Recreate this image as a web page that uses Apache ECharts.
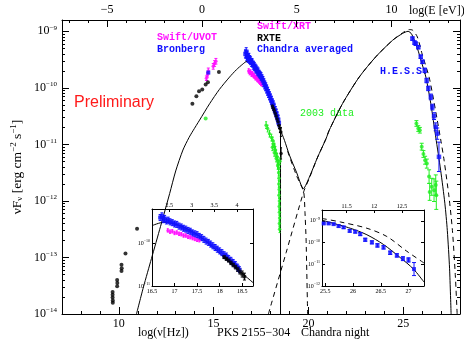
<!DOCTYPE html>
<html><head><meta charset="utf-8">
<script src="https://cdn.jsdelivr.net/npm/echarts@6/dist/echarts.min.js"></script>
<style>html,body{margin:0;padding:0;background:#fff}#c{width:464px;height:345px}</style>
</head><body><div id="c"></div>
<script>
// ---------- tick labels ----------
const xMainTicks = [10, 15, 20, 25];           // log(nu[Hz])
const eMainTicks = [-5, 0, 5, 10];             // log(E[eV])
const yMainTicks = [-14, -13, -12, -11, -10, -9];
const xInsetLTicks = [16.5, 17, 17.5, 18, 18.5];
const eInsetLTicks = [2.5, 3, 3.5, 4];
const yInsetLTicks = [-11, -10];
const xInsetRTicks = [25.5, 26, 26.5, 27];
const eInsetRTicks = [11.5, 12, 12.5];
const yInsetRTicks = [-12, -11, -10, -9];
const LOG_H = 14.383; // log(nu) - log(E[eV])

// ---------- data (log10 nu [Hz], log10 nuFnu) ----------
const radioBlack = [[9.67,-13.61],[9.67,-13.66],[9.67,-13.71],[9.68,-13.76],[9.68,-13.80],
  [9.91,-13.40],[9.92,-13.45],[9.91,-13.51],[10.14,-13.13],[10.15,-13.19],[10.14,-13.24],
  [10.35,-12.93],[10.96,-12.49]];
const opticalBlack = [[13.88,-10.28],[14.09,-10.15],[14.23,-10.06],[14.40,-10.03],[14.58,-9.94],[14.70,-9.90],[15.28,-9.72]];
const uvot = [[14.62,-9.83],[14.68,-9.77],[14.72,-9.70],[14.98,-9.62],[15.05,-9.57],[15.12,-9.53]];
const uvotErr = [0.04,0.04,0.05,0.05,0.05,0.05];
const bronberg = [[14.72,-9.73]];
const greenOptical = [[14.58,-10.54]];
const xrt = [[16.85,-9.70],[16.90,-9.73],[16.95,-9.72],[17.00,-9.76],[17.05,-9.75],[17.10,-9.78],[17.15,-9.79],
  [17.20,-9.82],[17.25,-9.82],[17.30,-9.85],[17.35,-9.86],[17.40,-9.88],[17.45,-9.90],[17.50,-9.92],[17.55,-9.93]];
const chandra = [[16.68,-9.40],[16.72,-9.36],[16.75,-9.45],[16.78,-9.42],[16.82,-9.48],[16.86,-9.46],[16.90,-9.50],
  [16.95,-9.52],[17.00,-9.55],[17.05,-9.56],[17.10,-9.60],[17.15,-9.62],[17.20,-9.65],[17.25,-9.67],[17.30,-9.70],
  [17.35,-9.72],[17.40,-9.76],[17.45,-9.78],[17.50,-9.80],[17.55,-9.84],[17.60,-9.87],[17.65,-9.91],[17.70,-9.95],
  [17.75,-9.98],[17.80,-10.02],[17.85,-10.06],[17.90,-10.10],[17.95,-10.14],[18.00,-10.18],[18.05,-10.22],
  [18.10,-10.27],[18.15,-10.30],[18.20,-10.36],[18.25,-10.40],[18.30,-10.45],[18.35,-10.50],[18.40,-10.56],[18.44,-10.62]];
const chandraErr = 0.07;
const rxte = [[18.10,-10.32],[18.15,-10.36],[18.20,-10.40],[18.25,-10.45],[18.30,-10.50],[18.35,-10.55],
  [18.40,-10.60],[18.45,-10.66],[18.50,-10.72],[18.55,-10.78],[18.56,-11.16]];
const rxteErr = [0.04,0.04,0.04,0.05,0.05,0.05,0.06,0.06,0.07,0.08,0.10];
const green2003X = [[17.77,-10.66],[17.85,-10.72],[17.95,-10.81],[18.05,-10.88],[18.12,-10.93],[18.18,-11.00],
  [18.21,-11.04],[18.26,-11.10],[18.30,-11.16],[18.35,-11.22],[18.39,-11.28],[18.41,-11.35],[18.44,-11.42],
  [18.10,-11.05],[18.20,-11.15],[18.30,-11.25],[18.38,-11.38],[18.50,-11.30],
  [18.43,-11.50],[18.45,-11.60],[18.44,-11.70],[18.46,-11.80],[18.45,-11.90],[18.47,-12.00],[18.46,-12.10],
  [18.47,-12.20],[18.48,-12.30],[18.47,-12.40],[18.48,-12.50]];
const green2003XErr = 0.06;
const hessMain = [[25.49,-9.13],[25.60,-9.20],[25.67,-9.22],[25.80,-9.28],[25.93,-9.45],[26.02,-9.54],[26.14,-9.69],
  [26.24,-9.87],[26.33,-10.01],[26.46,-10.16],[26.54,-10.34],[26.63,-10.50],[26.72,-10.69],[26.80,-10.81],[26.89,-11.22]];
const hessMainErr = [0.03,0.03,0.03,0.03,0.03,0.03,0.04,0.04,0.04,0.05,0.05,0.06,0.07,0.10,0.26];
const green2003TeV = [[25.70,-10.63],[25.80,-10.72],[25.88,-10.75],[25.98,-11.04],[26.07,-11.17],[26.16,-11.28],
  [26.25,-11.34],[26.37,-11.57],[26.40,-11.84],[26.51,-11.75],[26.63,-11.81],[26.72,-11.72],[26.75,-11.90]];
const green2003TeVErr = [0.05,0.05,0.05,0.06,0.06,0.07,0.08,0.12,0.15,0.15,0.20,0.18,0.25];
const hessInset = [[25.47,-9.12],[25.56,-9.12],[25.65,-9.15],[25.74,-9.24],[25.83,-9.30],[25.94,-9.46],[26.04,-9.50],
  [26.13,-9.61],[26.22,-9.87],[26.34,-9.99],[26.44,-10.13],[26.55,-10.22],[26.67,-10.47],[26.79,-10.59],
  [26.90,-10.74],[27.00,-10.80],[27.10,-11.22]];
const hessInsetErr = [0.03,0.03,0.04,0.05,0.05,0.06,0.06,0.07,0.07,0.07,0.08,0.08,0.08,0.08,0.09,0.10,0.30];

// ---------- model curves ----------
const modelSolid = [[10.93,-14.0],[11.3,-13.52],[11.72,-13.02],[12.2,-12.45],[12.68,-11.87],[13.0,-11.47],
  [13.38,-11.1],[13.7,-10.88],[13.91,-10.76],[14.26,-10.57],[14.79,-10.28],[15.3,-10.03],[15.84,-9.81],
  [16.2,-9.68],[16.54,-9.58],[16.76,-9.53],[17.12,-9.59],[17.49,-9.79],[17.86,-10.1],[18.22,-10.45],
  [18.5,-10.72],[18.74,-10.93],[19.0,-11.19],[19.37,-11.49],[19.74,-11.78],[20.05,-11.58],[20.47,-11.24],
  [20.93,-10.9],[21.1,-10.75],[21.8,-10.28],[22.68,-9.81],[23.56,-9.45],[24.44,-9.16],[24.96,-9.04],
  [25.26,-9.0],[25.45,-9.05],[25.75,-9.3],[26.0,-9.58],[26.2,-9.81],[26.46,-10.28],[26.72,-10.87],
  [26.98,-11.46],[27.2,-12.04],[27.33,-12.52],[27.45,-13.2],[27.53,-14.0]];
const synchCutoff = [[18.53,-10.72],[18.53,-14.0]];
const modelDashedSynch = [[18.9,-11.12],[19.37,-11.55],[19.75,-11.84],[19.82,-12.2],[19.88,-12.69],[19.96,-14.0]];
const modelDashedIC = [[17.89,-14.0],[18.83,-12.91],[19.75,-11.84],[20.05,-11.6],[20.47,-11.24],[20.93,-10.9],
  [21.1,-10.75],[21.8,-10.28],[22.68,-9.81],[23.56,-9.45],[24.44,-9.16],[24.96,-9.03],[25.3,-8.97],[25.5,-8.98],
  [25.75,-9.1],[26.0,-9.4],[26.37,-9.81],[26.6,-10.2],[26.8,-10.57],[27.0,-10.95],[27.16,-11.28],[27.42,-11.93],
  [27.6,-12.52],[27.75,-13.3],[27.85,-14.0]];
const insetLModel = [[16.5,-9.59],[16.76,-9.51],[17.12,-9.59],[17.49,-9.79],[17.86,-10.1],[18.22,-10.45],[18.74,-10.92]];
const insetRModelSolid = [[25.44,-8.97],[25.95,-9.34],[26.25,-9.64],[26.55,-10.09],[26.85,-10.69],[27.09,-11.22],[27.28,-11.82]];
const insetRModelDashed = [[25.44,-8.89],[25.77,-9.05],[26.25,-9.34],[26.61,-9.72],[26.97,-10.4],[27.28,-10.94]];

// ---------- helpers ----------
const SERIF = 'Liberation Serif, DejaVu Serif, serif';
const MONO = 'Liberation Mono, DejaVu Sans Mono, monospace';
const SANS = 'Liberation Sans, Arial, sans-serif';
const BLUE = '#1010ff', MAG = '#ff10ff', GREEN = '#22ee22';
const minus = n => (n < 0 ? '\u2212' + Math.abs(n) : String(n));
const logMinor = (lo, hi) => { const r = []; for (let n = Math.floor(lo); n < hi; n++) for (let k = 2; k <= 9; k++) { const v = n + Math.log10(k); if (v > lo && v < hi) r.push(v); } return r; };
const intRange = (lo, hi, off) => { const r = []; for (let k = Math.ceil(lo - off); k + off <= hi; k++) r.push(k + off); return r; };
const withErr = (pts, err) => pts.map((p, i) => [p[0], p[1] - (Array.isArray(err) ? err[i] : err), p[1] + (Array.isArray(err) ? err[i] : err)]);

function xAx(grid, min, max, pos, o) {
  return {
    type: 'value', gridIndex: grid, min, max, position: pos,
    axisLine: { show: o.line !== false, onZero: false, lineStyle: { color: '#000', width: 1 } },
    axisTick: { show: true, inside: true, length: o.tl, customValues: o.ticks, lineStyle: { color: '#000', width: 1 } },
    axisLabel: o.labels ? { show: true, customValues: o.labels, formatter: o.fmt, color: '#000', fontSize: o.fs, fontFamily: SERIF, margin: o.margin, hideOverlap: false, showMinLabel: true, showMaxLabel: true } : { show: false },
    splitLine: { show: false }
  };
}
function yAx(grid, min, max, pos, o) {
  return {
    type: 'value', gridIndex: grid, min, max, position: pos,
    axisLine: { show: o.line !== false, onZero: false, lineStyle: { color: '#000', width: 1 } },
    axisTick: { show: true, inside: true, length: o.tl, customValues: o.ticks, lineStyle: { color: '#000', width: 1 } },
    axisLabel: o.labels ? { show: true, customValues: o.labels, color: '#000', fontFamily: SERIF, margin: o.margin,
      formatter: v => '{b|10}{s|' + minus(Math.round(v)) + '}',
      rich: { b: { fontSize: o.fs, fontFamily: SERIF, color: '#000', lineHeight: o.fs + 2 }, s: { fontSize: Math.round(o.fs * 0.62), fontFamily: SERIF, color: '#000', verticalAlign: 'top' } } } : { show: false },
    splitLine: { show: false }
  };
}
function errSeries(data, color, xi, yi, cap) {
  return { type: 'custom', xAxisIndex: xi, yAxisIndex: yi, data, silent: true, z: 3, clip: true,
    encode: { x: 0, y: [1, 2] },
    renderItem(params, api) {
      const x = api.value(0), lo = api.value(1), hi = api.value(2);
      const a = api.coord([x, lo]), b = api.coord([x, hi]);
      const s = { stroke: color, lineWidth: 1 };
      const ch = [{ type: 'line', shape: { x1: a[0], y1: a[1], x2: b[0], y2: b[1] }, style: s }];
      if (cap) {
        ch.push({ type: 'line', shape: { x1: a[0] - cap, y1: a[1], x2: a[0] + cap, y2: a[1] }, style: s });
        ch.push({ type: 'line', shape: { x1: b[0] - cap, y1: b[1], x2: b[0] + cap, y2: b[1] }, style: s });
      }
      return { type: 'group', children: ch };
    } };
}
function pts(data, color, sym, size, xi, yi) {
  return { type: 'scatter', xAxisIndex: xi, yAxisIndex: yi, data, symbol: sym, symbolSize: size, itemStyle: { color }, z: 4, silent: true };
}
function line(data, dashed, xi, yi, smooth) {
  return { type: 'line', xAxisIndex: xi, yAxisIndex: yi, data, showSymbol: false, symbol: 'none', smooth: smooth || 0,
    lineStyle: { color: '#000', width: 1, type: dashed ? [5, 4] : 'solid' }, z: 2, silent: true };
}

const M = [0, 0], L = [4, 4], R = [6, 6];
const chart = echarts.init(document.getElementById('c'), null, { renderer: 'canvas' });
chart.setOption({
  animation: false,
  backgroundColor: '#fff',
  grid: [
    { left: 62, top: 20, width: 398, height: 294 },
    { left: 152, top: 209, width: 101, height: 77 },
    { left: 322, top: 210, width: 102, height: 76 }
  ],
  xAxis: [
    xAx(0, 7, 28, 'bottom', { tl: 7, ticks: xMainTicks, labels: xMainTicks, fmt: v => String(v), fs: 12, margin: 4 }),
    xAx(0, 7, 28, 'bottom', { line: false, tl: 3, ticks: intRange(7, 28, 0) }),
    xAx(0, 7, 28, 'top', { tl: 7, ticks: eMainTicks.map(e => e + LOG_H), labels: eMainTicks.map(e => e + LOG_H), fmt: v => minus(Math.round(v - LOG_H)), fs: 12, margin: 4 }),
    xAx(0, 7, 28, 'top', { line: false, tl: 3, ticks: intRange(7, 28, LOG_H % 1) }),
    xAx(1, 16.5, 18.74, 'bottom', { tl: 3, ticks: xInsetLTicks, labels: xInsetLTicks, fmt: v => String(v), fs: 6, margin: 2 }),
    xAx(1, 16.5, 18.74, 'top', { tl: 3, ticks: eInsetLTicks.map(e => e + LOG_H), labels: eInsetLTicks.map(e => e + LOG_H), fmt: v => String(Math.round((v - LOG_H) * 2) / 2), fs: 6, margin: 1 }),
    xAx(2, 25.44, 27.28, 'bottom', { tl: 3, ticks: xInsetRTicks, labels: xInsetRTicks, fmt: v => String(v), fs: 6, margin: 2 }),
    xAx(2, 25.44, 27.28, 'top', { tl: 3, ticks: eInsetRTicks.map(e => e + LOG_H), labels: eInsetRTicks.map(e => e + LOG_H), fmt: v => String(Math.round((v - LOG_H) * 2) / 2), fs: 6, margin: 1 })
  ],
  yAxis: [
    yAx(0, -14, -8.8, 'left', { tl: 7, ticks: yMainTicks, labels: yMainTicks, fs: 12, margin: 5 }),
    yAx(0, -14, -8.8, 'left', { line: false, tl: 3, ticks: logMinor(-14, -8.8) }),
    yAx(0, -14, -8.8, 'right', { tl: 7, ticks: yMainTicks }),
    yAx(0, -14, -8.8, 'right', { line: false, tl: 3, ticks: logMinor(-14, -8.8) }),
    yAx(1, -11, -9.2, 'left', { tl: 3, ticks: yInsetLTicks, labels: yInsetLTicks, fs: 6, margin: 2 }),
    yAx(1, -11, -9.2, 'right', { tl: 3, ticks: yInsetLTicks }),
    yAx(2, -12, -8.5, 'left', { tl: 3, ticks: yInsetRTicks, labels: yInsetRTicks, fs: 6, margin: 2 }),
    yAx(2, -12, -8.5, 'right', { tl: 3, ticks: yInsetRTicks })
  ],
  series: [
    line(modelSolid, false, ...M, 0.25),
    line(synchCutoff, false, ...M),
    line(modelDashedSynch, true, ...M, 0.2),
    line(modelDashedIC, true, ...M, 0.25),
    pts(radioBlack, '#000', 'circle', 4, ...M),
    pts(opticalBlack, '#000', 'circle', 4, ...M),
    errSeries(withErr(uvot, uvotErr), MAG, ...M, 1.5),
    pts(uvot, MAG, 'circle', 3.5, ...M),
    pts(bronberg, BLUE, 'rect', 4, ...M),
    pts(greenOptical, GREEN, 'circle', 4, ...M),
    errSeries(withErr(green2003X, green2003XErr), GREEN, ...M, 1),
    pts(green2003X, GREEN, 'circle', 3.5, ...M),
    errSeries(withErr(xrt, 0.04), MAG, ...M, 1),
    pts(xrt, MAG, 'circle', 3.5, ...M),
    errSeries(withErr(chandra, chandraErr), BLUE, ...M, 1.5),
    pts(chandra, BLUE, 'rect', 4.5, ...M),
    errSeries(withErr(rxte, rxteErr), '#000', ...M, 1),
    pts(rxte, '#000', 'circle', 3.5, ...M),
    errSeries(withErr(hessMain, hessMainErr), BLUE, ...M, 2),
    pts(hessMain, BLUE, 'rect', 4.5, ...M),
    errSeries(withErr(green2003TeV, green2003TeVErr), GREEN, ...M, 2),
    pts(green2003TeV, GREEN, 'circle', 4, ...M),
    // left inset
    line(insetLModel, false, ...L, 0.3),
    errSeries(withErr(xrt, 0.04), MAG, ...L, 1),
    pts(xrt, MAG, 'circle', 3, ...L),
    errSeries(withErr(chandra, chandraErr), BLUE, ...L, 1.5),
    pts(chandra, BLUE, 'rect', 4, ...L),
    errSeries(withErr(rxte, rxteErr), '#000', ...L, 1.5),
    pts(rxte, '#000', 'rect', 3.5, ...L),
    // right inset
    line(insetRModelSolid, false, ...R, 0.3),
    line(insetRModelDashed, true, ...R, 0.3),
    errSeries(withErr(hessInset, hessInsetErr), BLUE, ...R, 2),
    pts(hessInset, BLUE, 'rect', 4, ...R)
  ],
  graphic: [
    { type: 'text', left: 409, top: 5, style: { text: 'log(E [eV])', fontSize: 12, fontFamily: SERIF, fill: '#000' } },
    { type: 'text', x: 74, y: 103, style: { text: 'Preliminary', fontSize: 16, fontFamily: SANS, fill: '#ff1a1a', verticalAlign: 'middle' } },
    { type: 'text', x: 157, y: 37, style: { text: 'Swift/UVOT', fontSize: 10, fontFamily: MONO, fontWeight: 'bold', fill: MAG, verticalAlign: 'middle' } },
    { type: 'text', x: 157, y: 49, style: { text: 'Bronberg', fontSize: 10, fontFamily: MONO, fontWeight: 'bold', fill: BLUE, verticalAlign: 'middle' } },
    { type: 'text', x: 257, y: 26, style: { text: 'Swift/XRT', fontSize: 10, fontFamily: MONO, fontWeight: 'bold', fill: MAG, verticalAlign: 'middle' } },
    { type: 'text', x: 257, y: 38, style: { text: 'RXTE', fontSize: 10, fontFamily: MONO, fontWeight: 'bold', fill: '#000', verticalAlign: 'middle' } },
    { type: 'text', x: 257, y: 49, style: { text: 'Chandra averaged', fontSize: 10, fontFamily: MONO, fontWeight: 'bold', fill: BLUE, verticalAlign: 'middle' } },
    { type: 'text', x: 380, y: 71, style: { text: 'H.E.S.S.', fontSize: 10, fontFamily: MONO, fontWeight: 'bold', fill: BLUE, verticalAlign: 'middle' } },
    { type: 'text', x: 300, y: 113, style: { text: '2003 data', fontSize: 10, fontFamily: MONO, fill: GREEN, verticalAlign: 'middle' } },
    { type: 'text', x: 138, y: 333, style: { text: 'log(\u03bd[Hz])', fontSize: 12, fontFamily: SERIF, fill: '#000', verticalAlign: 'middle' } },
    { type: 'text', x: 217, y: 333, style: { text: 'PKS\u20092155\u2212304', fontSize: 12, fontFamily: SERIF, fill: '#000', verticalAlign: 'middle' } },
    { type: 'text', x: 301, y: 333, style: { text: 'Chandra night', fontSize: 12, fontFamily: SERIF, fill: '#000', verticalAlign: 'middle' } },
    { type: 'text', x: 17, y: 167, rotation: Math.PI / 2,
      style: { text: '{n|\u03bdF}{sub|\u03bd}{n| [erg cm}{sup|\u22122}{n| s}{sup|\u22121}{n|]}', align: 'center', verticalAlign: 'middle',
        rich: { n: { fontSize: 13.5, fontFamily: SERIF, fill: '#000', lineHeight: 15 },
                sub: { fontSize: 9, fontFamily: SERIF, fill: '#000', verticalAlign: 'bottom', lineHeight: 15 },
                sup: { fontSize: 9, fontFamily: SERIF, fill: '#000', verticalAlign: 'top', lineHeight: 9 } } } }
  ]
});
</script></body></html>
